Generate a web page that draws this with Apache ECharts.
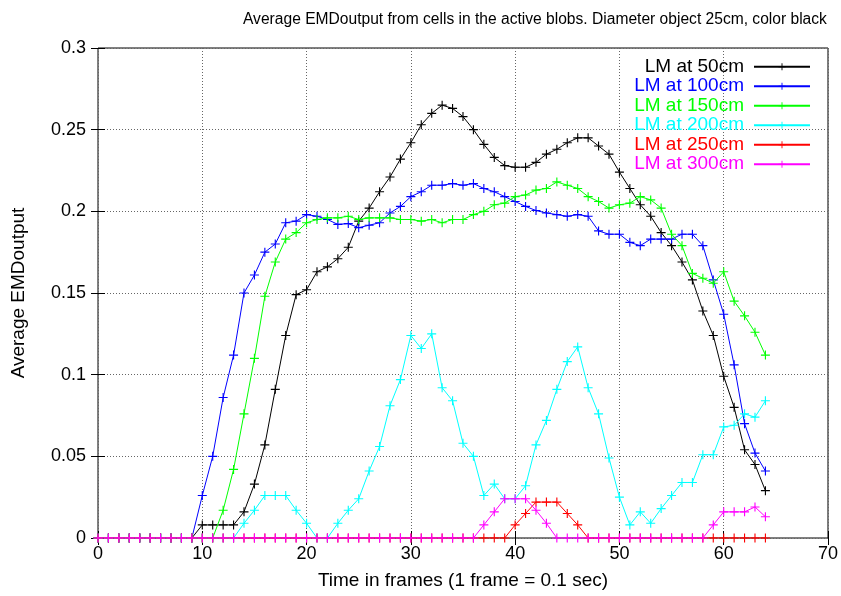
<!DOCTYPE html>
<html>
<head>
<meta charset="utf-8">
<script src="https://cdn.jsdelivr.net/npm/echarts@6/dist/echarts.min.js"></script>
<style>html,body{margin:0;padding:0;background:#fff}#c{width:841px;height:596px}</style>
</head>
<body>
<div id="c"></div>
<script>
const frames = [0,1,2,3,4,5,6,7,8,9,10,11,12,13,14,15,16,17,18,19,20,21,22,23,24,25,26,27,28,29,30,31,32,33,34,35,36,37,38,39,40,41,42,43,44,45,46,47,48,49,50,51,52,53,54,55,56,57,58,59,60,61,62,63,64];
const lm50 = [0,0,0,0,0,0,0,0,0,0,0.008,0.008,0.008,0.008,0.016,0.033,0.057,0.091,0.124,0.149,0.152,0.163,0.166,0.171,0.178,0.194,0.202,0.212,0.221,0.232,0.242,0.253,0.260,0.265,0.263,0.258,0.250,0.241,0.233,0.228,0.227,0.227,0.230,0.235,0.238,0.242,0.245,0.245,0.240,0.235,0.224,0.214,0.204,0.197,0.187,0.179,0.169,0.158,0.139,0.124,0.099,0.080,0.054,0.045,0.029];
const lm100 = [0,0,0,0,0,0,0,0,0,0,0.026,0.050,0.086,0.112,0.150,0.161,0.175,0.180,0.193,0.194,0.198,0.197,0.195,0.192,0.1925,0.190,0.1915,0.193,0.199,0.203,0.209,0.212,0.216,0.216,0.217,0.216,0.217,0.214,0.212,0.209,0.206,0.203,0.2005,0.199,0.198,0.197,0.198,0.197,0.188,0.186,0.186,0.181,0.179,0.183,0.183,0.183,0.186,0.186,0.179,0.158,0.137,0.106,0.070,0.052,0.041];
const lm150 = [0,0,0,0,0,0,0,0,0,0,0,0,0.017,0.042,0.076,0.110,0.148,0.169,0.183,0.187,0.193,0.195,0.196,0.196,0.197,0.195,0.196,0.196,0.196,0.195,0.195,0.194,0.195,0.193,0.195,0.195,0.198,0.200,0.204,0.205,0.209,0.210,0.213,0.214,0.218,0.216,0.214,0.209,0.206,0.202,0.204,0.205,0.209,0.207,0.202,0.186,0.179,0.162,0.159,0.156,0.163,0.145,0.136,0.126,0.112];
const lm200 = [0,0,0,0,0,0,0,0,0,0,0,0,0,0,0.009,0.017,0.026,0.026,0.026,0.017,0.009,0,0,0.009,0.017,0.024,0.041,0.056,0.081,0.097,0.124,0.116,0.125,0.092,0.084,0.058,0.050,0.026,0.033,0.024,0.024,0.032,0.057,0.072,0.091,0.108,0.117,0.092,0.076,0.049,0.025,0.008,0.016,0.009,0.018,0.026,0.034,0.034,0.051,0.051,0.068,0.069,0.076,0.074,0.084];
const lm250 = [0,0,0,0,0,0,0,0,0,0,0,0,0,0,0,0,0,0,0,0,0,0,0,0,0,0,0,0,0,0,0,0,0,0,0,0,0,0,0,0,0.008,0.015,0.022,0.022,0.022,0.015,0.008,0,0,0,0,0,0,0,0,0,0,0,0,0,0,0,0,0,0];
const lm300 = [0,0,0,0,0,0,0,0,0,0,0,0,0,0,0,0,0,0,0,0,0,0,0,0,0,0,0,0,0,0,0,0,0,0,0,0,0,0.008,0.016,0.024,0.024,0.024,0.017,0.009,0,0,0,0,0,0,0,0,0,0,0,0,0,0,0,0.008,0.016,0.016,0.016,0.019,0.013];
const seriesNames = ['LM at 50cm','LM at 100cm','LM at 150cm','LM at 200cm','LM at 250cm','LM at 300cm'];
const seriesColors = ['#000000','#0000ff','#00ff00','#00ffff','#ff0000','#ff00ff'];
const seriesValues = [lm50, lm100, lm150, lm200, lm250, lm300];
const xTicks = [0,10,20,30,40,50,60,70];
const yTicks = [0,0.05,0.1,0.15,0.2,0.25,0.3];

const FONT = 'Liberation Sans';
const plus = 'path://M3.5,0h1v8h-1z M0,3.5h8v1h-8z';
const chart = echarts.init(document.getElementById('c'), null, {renderer:'canvas'});
const gridLine = {show:true, lineStyle:{color:'#666', type:[1,2], width:1}};
const series = seriesNames.map((n,i)=>({
  name:n, type:'line', xAxisIndex:0, yAxisIndex:0,
  data: frames.map((f,j)=>[f, seriesValues[i][j]]),
  symbol: plus, symbolSize: 9, showAllSymbol:true,
  lineStyle:{color:seriesColors[i], width:1},
  itemStyle:{color:seriesColors[i]},
  emphasis:{disabled:true}, animation:false, z: 2+i
}));
chart.setOption({
  animation:false,
  textStyle:{fontFamily:FONT},
  title:{text:'Average EMDoutput from cells in the active blobs. Diameter object 25cm, color black',
    left:238, top:7, textStyle:{fontFamily:FONT, fontSize:15.6, fontWeight:'normal', color:'#000'}},
  grid:{left:98, right:10, top:48, bottom:58, show:true, borderColor:'#000', borderWidth:1, backgroundColor:'transparent'},
  legend:{orient:'vertical', right:30, top:57, align:'right', itemWidth:56, itemHeight:9, itemGap:0, padding:0,
    data: seriesNames.map((n,i)=>({name:n, textStyle:{color:seriesColors[i]}})),
    textStyle:{fontFamily:FONT, fontSize:19, lineHeight:19.5, height:19.5, padding:[0,5,0,0]}, selectedMode:false},
  xAxis:[
    {type:'value', min:0, max:70, interval:10, position:'bottom',
     name:'Time in frames (1 frame = 0.1 sec)', nameLocation:'middle', nameGap:33,
     nameTextStyle:{fontFamily:FONT, fontSize:19, color:'#000'},
     axisLine:{show:false}, axisTick:{show:true, inside:true, length:7, lineStyle:{color:'#000'}},
     axisLabel:{color:'#000', fontFamily:FONT, fontSize:18, margin:7,
       formatter:v=>xTicks.includes(v)?String(v):''},
     splitLine:gridLine},
    {type:'value', min:0, max:70, interval:10, position:'top',
     axisLine:{show:false}, axisTick:{show:true, inside:true, length:7, lineStyle:{color:'#000'}},
     axisLabel:{show:false}, splitLine:{show:false}}
  ],
  yAxis:[
    {type:'value', min:0, max:0.3, interval:0.05, position:'left',
     name:'Average EMDoutput', nameLocation:'middle', nameGap:70, nameRotate:90,
     nameTextStyle:{fontFamily:FONT, fontSize:19, color:'#000'},
     axisLine:{show:false}, axisTick:{show:true, inside:true, length:7, lineStyle:{color:'#000'}},
     axisLabel:{color:'#000', fontFamily:FONT, fontSize:18, margin:12,
       formatter:v=>{const t=yTicks.find(k=>Math.abs(k-v)<1e-9); return t===undefined?'':String(t);}},
     splitLine:gridLine},
    {type:'value', min:0, max:0.3, interval:0.05, position:'right',
     axisLine:{show:false}, axisTick:{show:true, inside:true, length:7, lineStyle:{color:'#000'}},
     axisLabel:{show:false}, splitLine:{show:false}}
  ],
  series: series
});
</script>
</body>
</html>
